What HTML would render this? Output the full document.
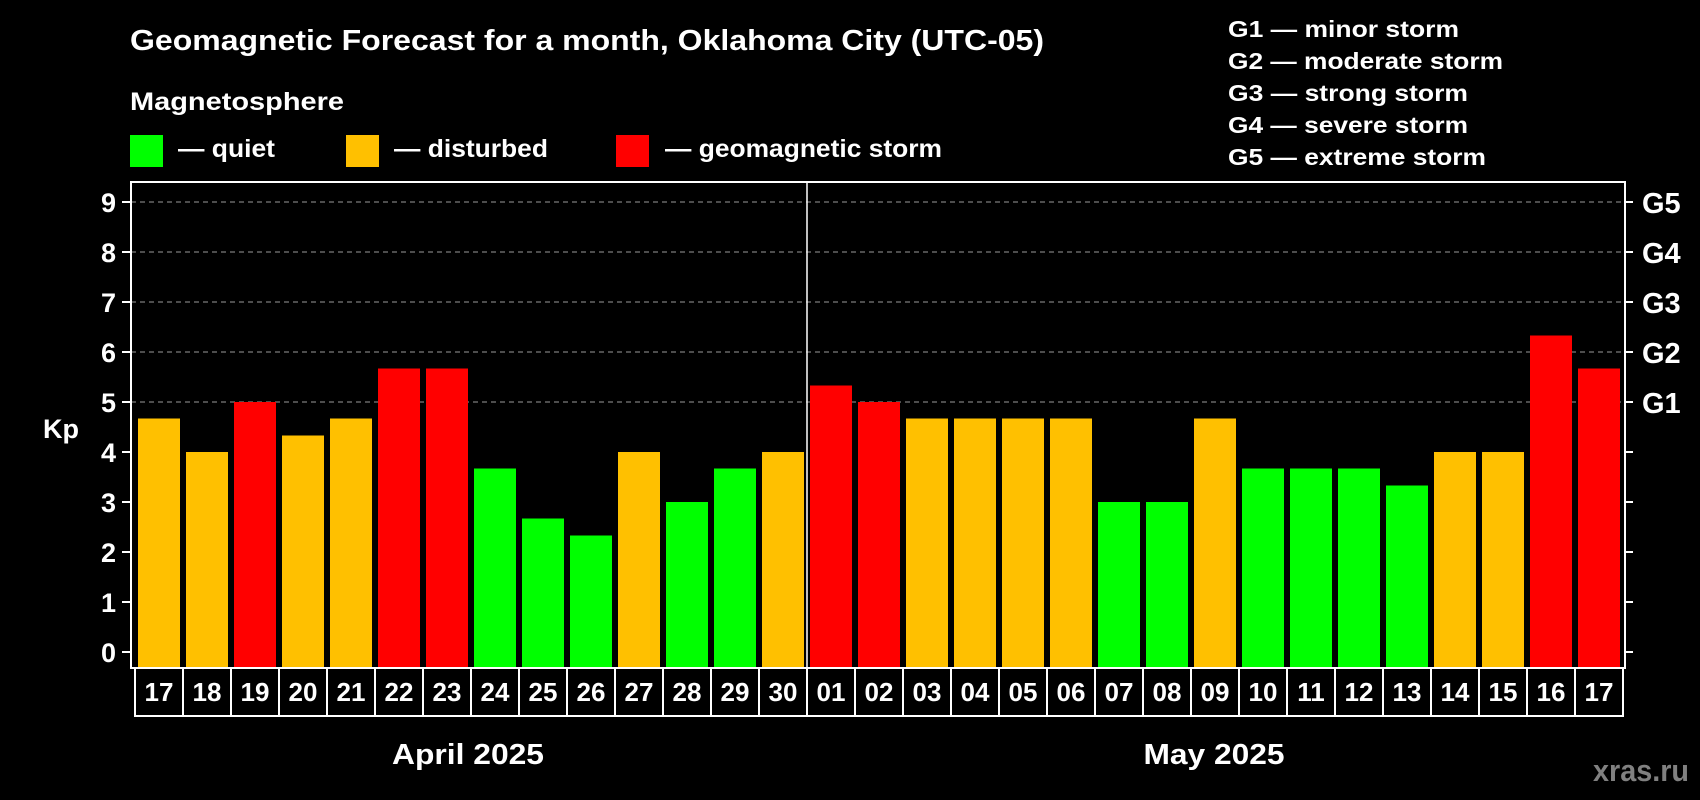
<!DOCTYPE html>
<html><head><meta charset="utf-8"><style>
html,body{margin:0;padding:0;background:#000;}
svg{display:block;font-family:"Liberation Sans",sans-serif;font-weight:bold;}
</style></head><body>
<svg id="chart" width="1700" height="800" viewBox="0 0 1700 800" xmlns="http://www.w3.org/2000/svg">
<rect width="1700" height="800" fill="#000"/>
<text x="130" y="50" font-size="29" fill="#fff" textLength="914" lengthAdjust="spacingAndGlyphs">Geomagnetic Forecast for a month, Oklahoma City (UTC-05)</text>
<text x="130" y="110" font-size="25" fill="#fff" textLength="214" lengthAdjust="spacingAndGlyphs">Magnetosphere</text>
<g>
<rect x="130" y="135" width="33" height="32" fill="#00ff00"/>
<text x="178" y="157" font-size="25" fill="#fff" textLength="97" lengthAdjust="spacingAndGlyphs">— quiet</text></g>
<g>
<rect x="346" y="135" width="33" height="32" fill="#ffc000"/>
<text x="394" y="157" font-size="25" fill="#fff" textLength="154" lengthAdjust="spacingAndGlyphs">— disturbed</text></g>
<g>
<rect x="616" y="135" width="33" height="32" fill="#ff0000"/>
<text x="665" y="157" font-size="25" fill="#fff" textLength="277" lengthAdjust="spacingAndGlyphs">— geomagnetic storm</text></g>
<g font-size="23" fill="#fff">
<text x="1228" y="37" textLength="231" lengthAdjust="spacingAndGlyphs">G1 — minor storm</text>
<text x="1228" y="69" textLength="275" lengthAdjust="spacingAndGlyphs">G2 — moderate storm</text>
<text x="1228" y="101" textLength="240" lengthAdjust="spacingAndGlyphs">G3 — strong storm</text>
<text x="1228" y="133" textLength="240" lengthAdjust="spacingAndGlyphs">G4 — severe storm</text>
<text x="1228" y="165" textLength="258" lengthAdjust="spacingAndGlyphs">G5 — extreme storm</text>
</g>
<g id="grid"></g>
<g id="bars"></g>
<g id="axes"></g>
<text x="43" y="438" font-size="27" fill="#fff">Kp</text>
<text x="468" y="764" font-size="29" fill="#fff" text-anchor="middle" textLength="152" lengthAdjust="spacingAndGlyphs">April 2025</text>
<text x="1214" y="764" font-size="29" fill="#fff" text-anchor="middle" textLength="141" lengthAdjust="spacingAndGlyphs">May 2025</text>
<text x="1593" y="781" font-size="31" fill="#808080" textLength="96" lengthAdjust="spacingAndGlyphs">xras.ru</text>
</svg>
<script>
const days = ["17","18","19","20","21","22","23","24","25","26","27","28","29","30","01","02","03","04","05","06","07","08","09","10","11","12","13","14","15","16","17"];
const kpValues = [4.67,4,5,4.33,4.67,5.67,5.67,3.67,2.67,2.33,4,3,3.67,4,5.33,5,4.67,4.67,4.67,4.67,3,3,4.67,3.67,3.67,3.67,3.33,4,4,6.33,5.67];
const yTicks = [0,1,2,3,4,5,6,7,8,9];
const gLabels = ["G1","G2","G3","G4","G5"];
const gLevels = [5,6,7,8,9];
const monthSplitIndex = 14;

const NS = "http://www.w3.org/2000/svg";
const plotL = 131, plotR = 1625, plotT = 182, plotB = 668;
const cellL = 135, cellW = 48, barInset = 3, barW = 42;
function y(v){ return 652 - v * 50; }
function xCell(i){ return cellL + i * cellW; }
function mk(tag, attrs, parent){ const e = document.createElementNS(NS, tag); for (const k in attrs) e.setAttribute(k, attrs[k]); parent.appendChild(e); return e; }
function color(v){ return v >= 5 ? "#ff0000" : (v >= 4 ? "#ffc000" : "#00ff00"); }

const grid = document.getElementById("grid");
gLevels.forEach(function(v){
  const l = mk("line", {x1: plotL, x2: plotR, y1: y(v), y2: y(v), stroke: "#9a9a9a", "stroke-width": 1, "stroke-dasharray": "5,4"}, grid);
  
  
});

const bars = document.getElementById("bars");
kpValues.forEach(function(v, i){
  const r = mk("rect", {x: xCell(i) + barInset, y: y(v), width: barW, height: plotB - y(v), fill: color(v)}, bars);
  
  
});

const axes = document.getElementById("axes");
const frame = mk("rect", {x: plotL, y: plotT, width: plotR - plotL, height: plotB - plotT, fill: "none", stroke: "#fff", "stroke-width": 2}, axes);


const div = mk("line", {x1: xCell(monthSplitIndex), x2: xCell(monthSplitIndex), y1: plotT, y2: plotB, stroke: "#fff", "stroke-width": 1.5}, axes);


yTicks.forEach(function(v){
  const t = mk("line", {x1: 122, x2: plotL, y1: y(v), y2: y(v), stroke: "#fff", "stroke-width": 2}, axes);
  
  
  const t2 = mk("line", {x1: plotR, x2: 1633, y1: y(v), y2: y(v), stroke: "#fff", "stroke-width": 2}, axes);
  
  
  const lb = mk("text", {x: 116, y: y(v) + 10, "font-size": 27, fill: "#fff", "text-anchor": "end"}, axes);
  lb.textContent = String(v);
  
  
});
gLabels.forEach(function(g, i){
  const lb = mk("text", {x: 1642, y: y(gLevels[i]) + 11, "font-size": 29, fill: "#fff"}, axes);
  lb.textContent = g;
  
  
});
days.forEach(function(d, i){
  const c = mk("rect", {x: xCell(i), y: plotB, width: cellW, height: 48, fill: "none", stroke: "#fff", "stroke-width": 2}, axes);
  
  
  const t = mk("text", {x: xCell(i) + cellW / 2, y: 701, "font-size": 26, fill: "#fff", "text-anchor": "middle"}, axes);
  t.textContent = d;
  
  
});
</script>
</body></html>
